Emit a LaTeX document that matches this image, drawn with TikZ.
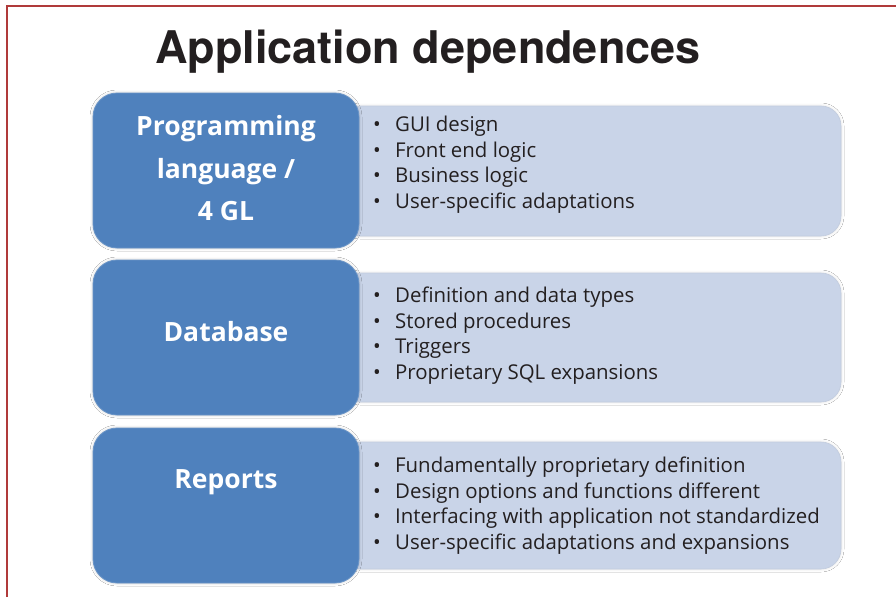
\documentclass[tikz,border=0pt]{standalone}
\usepackage{fontspec}
\setmainfont{Open Sans}
\newfontfamily\titlefont{TeX Gyre Heros}
\usetikzlibrary{shadows.blur}
\definecolor{framered}{HTML}{B03A3A}
\definecolor{boxblue}{HTML}{4F81BD}
\definecolor{boxlight}{HTML}{C9D4E8}
\definecolor{inktext}{HTML}{231F20}
\tikzset{
  bluebox/.style={draw=boxblue!85!white, line width=0.8pt, fill=boxblue, rounded corners=24pt, inner sep=0pt,
    blur shadow={shadow xshift=0pt, shadow yshift=0pt, shadow blur radius=3pt, shadow opacity=20}},
  lightbox/.style={draw=boxlight!90!gray, line width=0.6pt, fill=boxlight, rounded corners=20pt, inner sep=0pt,
    blur shadow={shadow xshift=0pt, shadow yshift=0pt, shadow blur radius=3pt, shadow opacity=12}},
  bluelabel/.style={text=white, font=\fontsize{26.5}{42.3}\selectfont\bfseries, align=center, anchor=base, inner sep=0pt},
  itemlist/.style={text=inktext, font=\fontsize{20.4}{25.4}\selectfont, align=left, anchor=base west, inner sep=0pt},
}
\newcommand{\itm}[1]{\makebox[22pt][l]{\textbullet}#1}
\begin{document}
\begin{tikzpicture}[x=1pt,y=-1pt]
\useasboundingbox (0,0) rectangle (896,597);
\fill[white] (0,0) rectangle (896,597);
% frame
\draw[framered, line width=2pt] (7,597) -- (7,6) -- (896,6);
% title
\node[anchor=base, inner sep=0pt, text=inktext, font=\fontsize{45}{50}\selectfont\titlefont\bfseries] (title) at (428,63) {Application dependences};
% light boxes
\node[lightbox, minimum width=501pt, minimum height=130pt] (l1) at (590.5,171) {};
\node[lightbox, minimum width=501pt, minimum height=129pt] (l2) at (590.5,337.5) {};
\node[lightbox, minimum width=501pt, minimum height=127pt] (l3) at (590.5,505.5) {};
% blue boxes
\node[bluebox, minimum width=266pt, minimum height=155pt] (b1) at (226,170.5) {};
\node[bluebox, minimum width=266pt, minimum height=155pt] (b2) at (226,337.5) {};
\node[bluebox, minimum width=266pt, minimum height=155pt] (b3) at (226,505.5) {};
% blue labels (base anchor = last line)
\node[bluelabel] (t1) at (226,220.5) {Programming\\language /\\4 GL};
\node[bluelabel] (t2) at (226,341) {Database};
\node[bluelabel] (t3) at (226,488) {Reports};
% item lists (base anchor = last line)
\node[itemlist] (i1) at (373,208) {\itm{GUI design}\\\itm{Front end logic}\\\itm{Business logic}\\\itm{User-specific adaptations}};
\node[itemlist] (i2) at (373,379) {\itm{Definition and data types}\\\itm{Stored procedures}\\\itm{Triggers}\\\itm{Proprietary SQL expansions}};
\node[itemlist] (i3) at (373,549) {\itm{Fundamentally proprietary definition}\\\itm{Design options and functions different}\\\itm{Interfacing with application not standardized}\\\itm{User-specific adaptations and expansions}};
\end{tikzpicture}
\end{document}
